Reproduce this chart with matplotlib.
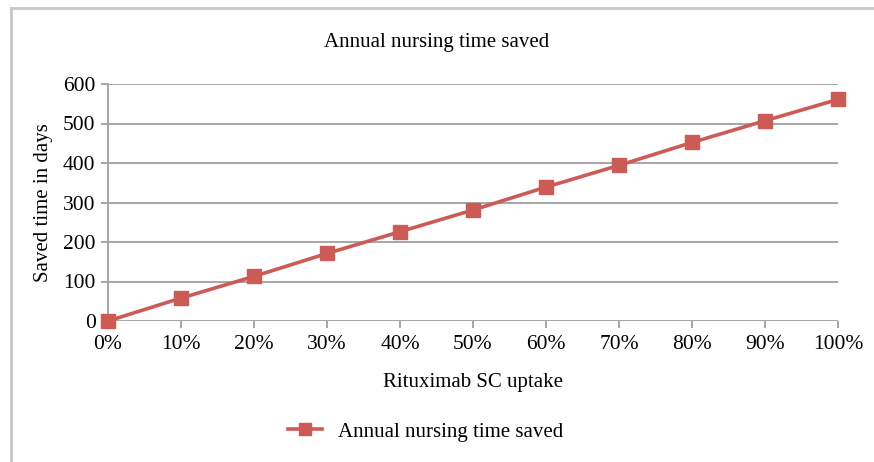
import matplotlib
matplotlib.use('Agg')
import matplotlib.pyplot as plt
from matplotlib.lines import Line2D

plt.rcParams['font.family'] = ['Liberation Serif', 'DejaVu Serif']

uptake_labels = ['0%', '10%', '20%', '30%', '40%', '50%', '60%', '70%', '80%', '90%', '100%']
saved_days = [0, 58, 113, 171, 226, 281, 339, 394, 452, 507, 561]
series_name = 'Annual nursing time saved'

W, H = 874, 462
fig = plt.figure(figsize=(W / 100, H / 100), dpi=100)

# outer chart frame (cropped at right and bottom)
fig.add_artist(Line2D([11 / W, 1], [1 - 8 / H, 1 - 8 / H], color='#C8C8C8', lw=2, transform=fig.transFigure))
fig.add_artist(Line2D([11 / W, 11 / W], [0, 1 - 8 / H], color='#C8C8C8', lw=2, transform=fig.transFigure))

ax = fig.add_axes([108 / W, 1 - 321 / H, (838 - 108) / W, (321 - 84) / H])
x = list(range(len(uptake_labels)))
line, = ax.plot(x, saved_days, color='#CD5B55', lw=2.6, marker='s', markersize=10,
                markerfacecolor='#CD5B55', markeredgecolor='#CD5B55', clip_on=False, zorder=3)

ax.set_xlim(0, len(x) - 1)
ax.set_ylim(0, 600)
ax.set_yticks(range(0, 601, 100))
ax.set_xticks(x)
ax.set_xticklabels(uptake_labels)
ax.yaxis.grid(True, color='#A6A6A6', lw=1.4)
ax.set_axisbelow(True)
for s in ['top', 'right', 'bottom']:
    ax.spines[s].set_visible(False)
ax.spines['left'].set_color('#A6A6A6')
ax.spines['left'].set_linewidth(1.4)
ax.tick_params(axis='both', colors='#A6A6A6', labelcolor='black', labelsize=15.5, length=5, width=1.4)
ax.tick_params(axis='x', pad=5)
ax.tick_params(axis='y', pad=4)

ax.set_xlabel('Rituximab SC uptake', fontsize=15, labelpad=14)
ax.set_ylabel('Saved time in days', fontsize=15, labelpad=7)
fig.text(437 / W, 1 - 42 / H, series_name, ha='center', va='center', fontsize=15)

fig.legend([line], [series_name], loc='center', bbox_to_anchor=(426 / W, 1 - 432 / H),
           frameon=False, fontsize=15, handlelength=1.6, markerscale=0.8)

fig.savefig('out.png', dpi=100)
